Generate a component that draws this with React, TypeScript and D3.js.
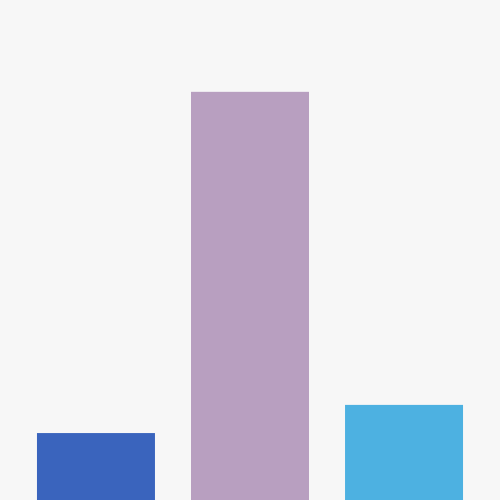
import React, { useEffect, useRef } from "react";
import * as d3 from "d3";

const categories = ["A", "B", "C"];
const values = [16.4, 100, 23.3];
const colors = ["#3a64bd", "#b89fc0", "#4db1e1"];

const App = () => {
  const ref = useRef<SVGSVGElement>(null);

  useEffect(() => {
    const width = 500;
    const height = 500;
    const svg = d3.select(ref.current);
    svg.selectAll("*").remove();

    svg.append("rect").attr("width", width).attr("height", height).attr("fill", "#f7f7f7");

    const x = d3.scaleBand().domain(categories).range([0, width]).paddingInner(0.234).paddingOuter(0.24);
    const y = d3.scaleLinear().domain([0, 122.5]).range([height, 0]);

    svg.append("g").selectAll("rect").data(values).join("rect")
      .attr("x", (d, i) => x(categories[i]) as number)
      .attr("y", d => y(d))
      .attr("width", x.bandwidth())
      .attr("height", d => height - y(d))
      .attr("fill", (d, i) => colors[i]);
  }, []);

  return (
    <svg ref={ref} width={500} height={500} style={{ position: "fixed", top: 0, left: 0 }}></svg>
  );
};

export default App;
